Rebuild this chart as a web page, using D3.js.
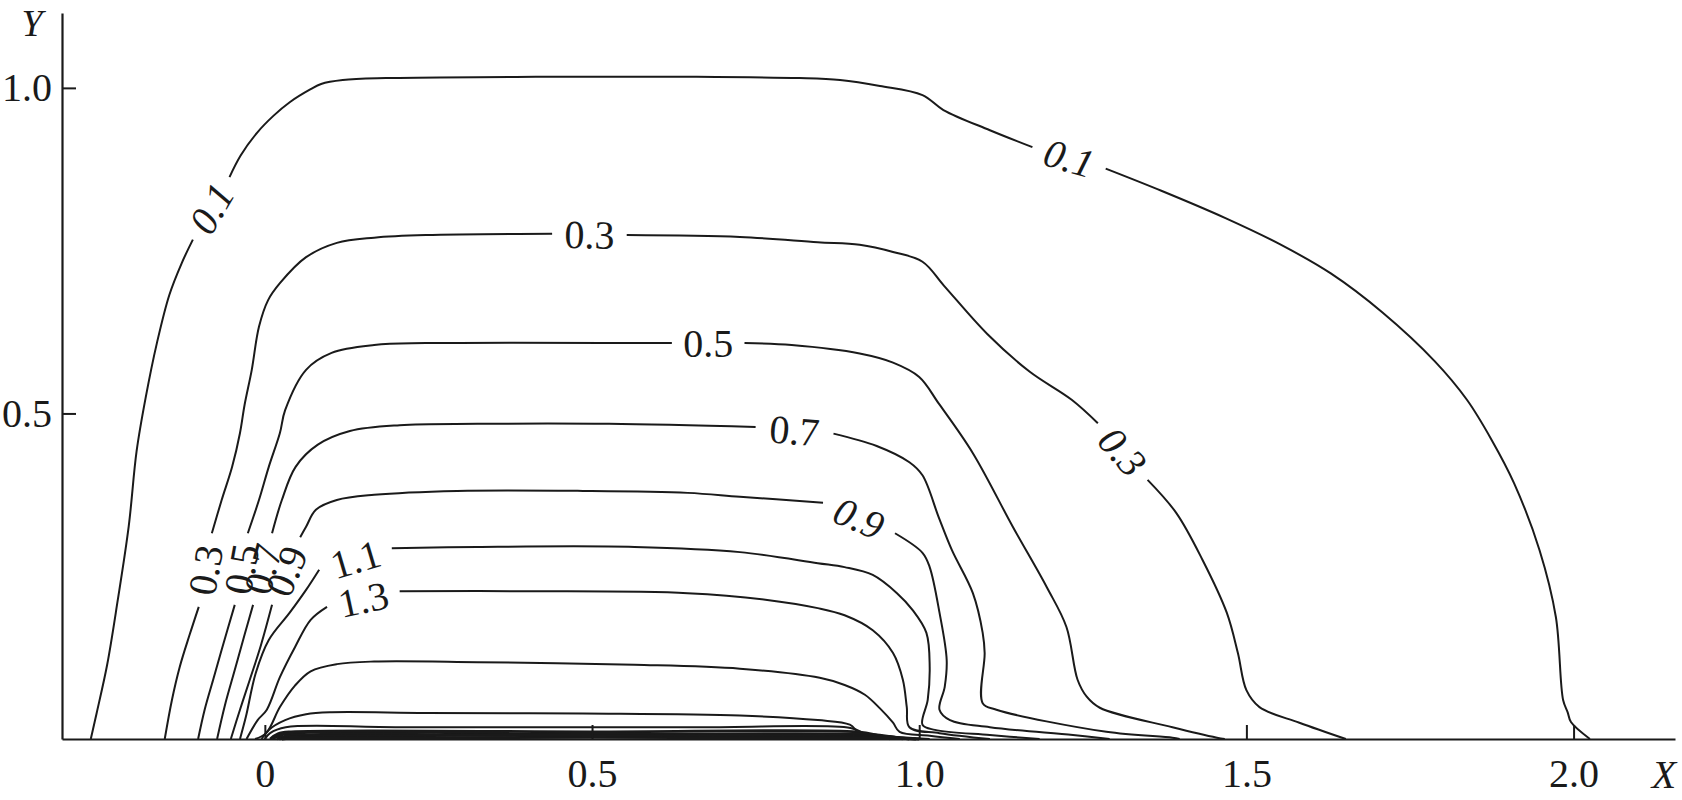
<!DOCTYPE html>
<html>
<head>
<meta charset="utf-8">
<script src="https://cdn.jsdelivr.net/npm/d3@7"></script>
<style>
  body { margin: 0; background: #fff; }
  svg text { font-family: "Liberation Serif", "Times New Roman", serif; fill: #1a1a1a; }
</style>
</head>
<body>
<svg id="chart" width="1682" height="800"></svg>
<script>
// axis ticks
const xTicks = [0, 0.5, 1.0, 1.5, 2.0];
const xTickLabels = ["0", "0.5", "1.0", "1.5", "2.0"];
const yTicks = [0.5, 1.0];
const yTickLabels = ["0.5", "1.0"];

// contour lines (x, y in data units).
// each level is a list of pieces; a label sits in the gap between two pieces
const c01 = [
  [[-0.266,0],[-0.257,0.040],[-0.241,0.114],[-0.225,0.212],[-0.208,0.327],[-0.196,0.442],[-0.182,0.525],[-0.165,0.608],[-0.146,0.682],[-0.127,0.731],[-0.110,0.767]],
  [[-0.054,0.863],[-0.037,0.896],[-0.012,0.931],[0.013,0.957],[0.038,0.978],[0.070,0.998],[0.086,1.006],[0.119,1.012],[0.185,1.015],[0.414,1.017],[0.660,1.017],[0.817,1.015],[0.879,1.012],[0.940,1.003],[1.005,0.989],[1.037,0.966],[1.108,0.935],[1.173,0.909]],
  [[1.285,0.876],[1.370,0.842],[1.468,0.800],[1.551,0.760],[1.629,0.715],[1.708,0.655],[1.788,0.580],[1.837,0.521],[1.875,0.459],[1.909,0.393],[1.948,0.290],[1.973,0.187],[1.984,0.060],[1.991,0.041],[1.996,0.026],[2.025,0]]
];
const c03 = [
  [[-0.153,0],[-0.142,0.060],[-0.130,0.111],[-0.115,0.160],[-0.101,0.203]],
  [[-0.081,0.316],[-0.066,0.367],[-0.050,0.418],[-0.038,0.470],[-0.031,0.513],[-0.020,0.567],[-0.009,0.633],[0.005,0.674],[0.023,0.700],[0.063,0.740],[0.110,0.762],[0.167,0.770],[0.246,0.774],[0.439,0.776]],
  [[0.553,0.774],[0.726,0.771],[0.845,0.763],[0.909,0.759],[0.960,0.748],[1.005,0.733],[1.038,0.696],[1.104,0.622],[1.169,0.564],[1.233,0.521],[1.273,0.485]],
  [[1.349,0.398],[1.393,0.347],[1.433,0.275],[1.470,0.194],[1.487,0.132],[1.500,0.075],[1.520,0.049],[1.581,0.025],[1.652,0]]
];
const c05 = [
  [[-0.102,0],[-0.092,0.045],[-0.079,0.091],[-0.066,0.137],[-0.046,0.206]],
  [[-0.026,0.316],[-0.009,0.367],[0.006,0.418],[0.023,0.470],[0.031,0.505],[0.063,0.567],[0.102,0.593],[0.167,0.605],[0.246,0.608],[0.622,0.608]],
  [[0.733,0.608],[0.805,0.605],[0.909,0.592],[0.960,0.578],[1.000,0.556],[1.030,0.515],[1.082,0.439],[1.143,0.326],[1.195,0.233],[1.225,0.172],[1.242,0.091],[1.256,0.065],[1.276,0.048],[1.387,0.018],[1.455,0.002],[1.467,0]]
];
const c07 = [
  [[-0.073,0],[-0.061,0.052],[-0.046,0.106],[-0.031,0.160],[-0.018,0.206]],
  [[0.011,0.316],[0.026,0.367],[0.047,0.418],[0.081,0.452],[0.130,0.473],[0.206,0.482],[0.325,0.484],[0.526,0.484],[0.750,0.479]],
  [[0.869,0.469],[0.935,0.450],[0.985,0.425],[1.005,0.405],[1.030,0.340],[1.050,0.290],[1.082,0.224],[1.097,0.163],[1.100,0.132],[1.097,0.055],[1.118,0.045],[1.286,0.011],[1.387,0.002],[1.398,0]]
];
const c09 = [
  [[-0.052,0],[-0.038,0.045],[-0.023,0.091],[-0.006,0.144],[0.011,0.206]],
  [[0.054,0.310],[0.063,0.326],[0.078,0.352],[0.110,0.367],[0.167,0.375],[0.294,0.381],[0.486,0.381],[0.646,0.378],[0.726,0.372],[0.853,0.363]],
  [[0.963,0.316],[1.005,0.286],[1.016,0.264],[1.031,0.194],[1.042,0.121],[1.039,0.080],[1.031,0.045],[1.047,0.029],[1.108,0.018],[1.235,0.006],[1.291,0]]
];
const c11 = [
  [[-0.038,0],[-0.029,0.034],[-0.014,0.101],[0.006,0.152],[0.038,0.194],[0.063,0.229],[0.083,0.260]],
  [[0.194,0.293],[0.325,0.295],[0.565,0.295],[0.726,0.287],[0.845,0.270],[0.886,0.264],[0.929,0.252],[0.966,0.224],[0.990,0.198],[1.011,0.163],[1.016,0.111],[1.013,0.060],[1.005,0.022],[1.024,0.014],[1.108,0.006],[1.184,0]]
];
const c13 = [
  [[-0.028,0],[-0.011,0.029],[0.003,0.045],[0.023,0.095],[0.046,0.141],[0.070,0.183],[0.095,0.203]],
  [[0.206,0.227],[0.406,0.227],[0.646,0.224],[0.765,0.214],[0.845,0.201],[0.886,0.190],[0.929,0.167],[0.960,0.132],[0.975,0.091],[0.981,0.049],[0.985,0.018],[1.031,0.009],[1.108,0]]
];
const c15 = [
  [[-0.015,0],[0.002,0.009],[0.023,0.049],[0.046,0.082],[0.070,0.104],[0.110,0.115],[0.167,0.119],[0.325,0.118],[0.565,0.114],[0.726,0.108],[0.848,0.094],[0.886,0.083],[0.917,0.068],[0.940,0.047],[0.960,0.025],[0.970,0.011],[1.016,0.005],[1.062,0]]
];
const c17 = [
  [[-0.005,0],[0.006,0.014],[0.031,0.029],[0.063,0.038],[0.102,0.041],[0.246,0.040],[0.486,0.039],[0.726,0.036],[0.845,0.029],[0.894,0.022],[0.909,0.009],[0.940,0.005],[1.016,0]]
];
// packed contours right above the source strip
const c19 = [[[0.000,0],[0.008,0.009],[0.032,0.018],[0.206,0.018],[0.665,0.018],[0.895,0.017],[0.915,0.009],[0.930,0]]];
const c21 = [[[0.008,0],[0.020,0.008],[0.040,0.011],[0.500,0.011],[0.905,0.011],[0.935,0.006],[0.955,0]]];
const c23 = [[[0.012,0],[0.028,0.007],[0.500,0.007],[0.925,0.007],[0.955,0.004],[0.975,0]]];
const c25 = [[[0.018,0],[0.032,0.0045],[0.500,0.0045],[0.940,0.0045],[0.985,0]]];
const c27 = [[[0.022,0],[0.038,0.0025],[0.950,0.0025],[0.995,0]]];
const c29 = [[[0.026,0],[0.040,0.001],[0.960,0.001],[1.000,0]]];

const levels = ["0.1", "0.3", "0.5", "0.7", "0.9", "1.1", "1.3", "1.5", "1.7", "1.9", "2.1", "2.3", "2.5", "2.7", "2.9"];
const contourPieces = [c01, c03, c05, c07, c09, c11, c13, c15, c17, c19, c21, c23, c25, c27, c29];
// labels set in italics: [level, gap index]
const italicGaps = [["0.1", 0], ["0.1", 1], ["0.3", 2], ["0.9", 1]];

const svg = d3.select("#chart");
const width = 1682, height = 800;

const x = d3.scaleLinear().domain([-0.31, 2.155]).range([62, 1675]);
const y = d3.scaleLinear().domain([0, 1.115]).range([739, 13]);

const line = d3.line()
    .x(function(d) { return x(d[0]); })
    .y(function(d) { return y(d[1]); })
    .curve(d3.curveCatmullRom.alpha(0.5));

// contour lines
const gLines = svg.append("g").attr("class", "contours");
contourPieces.forEach(function(pieces, li) {
    pieces.forEach(function(p) {
        gLines.append("path")
            .attr("d", line(p))
            .attr("fill", "none")
            .attr("stroke", "#1a1a1a")
            .attr("stroke-width", li >= 10 ? 2.8 : 2)
            .attr("stroke-linejoin", "round");
    });
});

// labels go in the gaps, turned along the line
const gLabels = svg.append("g").attr("class", "labels");
contourPieces.forEach(function(pieces, li) {
    for (let i = 0; i < pieces.length - 1; i++) {
        const a = pieces[i][pieces[i].length - 1];
        const b = pieces[i + 1][0];
        const ax = x(a[0]), ay = y(a[1]), bx = x(b[0]), by = y(b[1]);
        let ang = Math.atan2(by - ay, bx - ax) * 180 / Math.PI;
        if (ang > 90) ang -= 180;
        if (ang < -90) ang += 180;
        const italic = italicGaps.some(function(g) { return g[0] === levels[li] && g[1] === i; });
        gLabels.append("text")
            .attr("transform", `translate(${(ax + bx) / 2},${(ay + by) / 2}) rotate(${ang})`)
            .attr("text-anchor", "middle")
            .attr("dy", "0.35em")
            .attr("font-size", 40)
            .attr("font-style", italic ? "italic" : "normal")
            .text(levels[li]);
    }
});

// axes
const xAxis = d3.axisBottom(x)
    .tickValues(xTicks)
    .tickFormat(function(d, i) { return xTickLabels[i]; })
    .tickSize(-14)
    .tickSizeOuter(0)
    .tickPadding(20);
const yAxis = d3.axisLeft(y)
    .tickValues(yTicks)
    .tickFormat(function(d, i) { return yTickLabels[i]; })
    .tickSize(-14)
    .tickSizeOuter(0)
    .tickPadding(10);

const gx = svg.append("g").attr("transform", `translate(0,${y(0)})`).call(xAxis);
const gy = svg.append("g").attr("transform", `translate(${x(-0.31)},0)`).call(yAxis);
[gx, gy].forEach(function(g) {
    g.attr("font-family", null).attr("font-size", null);
    g.select(".domain").attr("stroke", "#1a1a1a").attr("stroke-width", 2.2);
    g.selectAll(".tick line").attr("stroke", "#1a1a1a").attr("stroke-width", 2);
    g.selectAll(".tick text").attr("font-size", 40).attr("fill", "#1a1a1a");
});

// axis names
svg.append("text")
    .attr("x", 32).attr("y", 36)
    .attr("text-anchor", "middle")
    .attr("font-size", 38)
    .attr("font-style", "italic")
    .text("Y");
svg.append("text")
    .attr("x", 1664).attr("y", 788)
    .attr("text-anchor", "middle")
    .attr("font-size", 40)
    .attr("font-style", "italic")
    .text("X");
</script>
</body>
</html>
